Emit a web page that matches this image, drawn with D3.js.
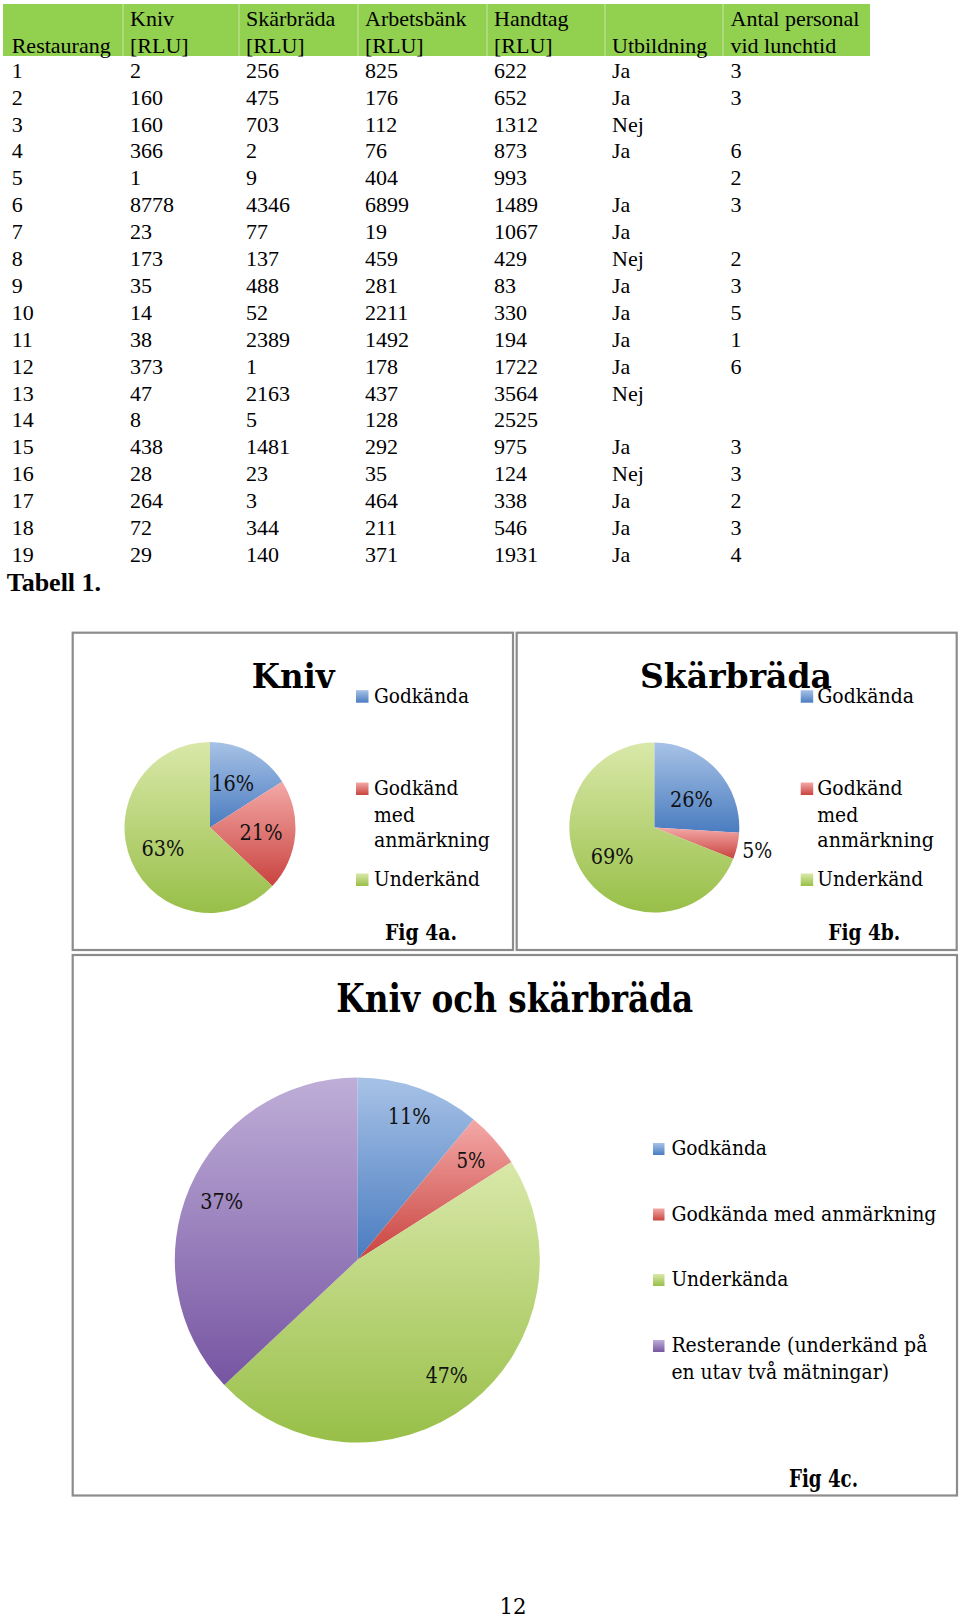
<!DOCTYPE html>
<html>
<head>
<meta charset="utf-8">
<script src="https://cdn.jsdelivr.net/npm/d3@7"></script>
<style>
  html, body { margin: 0; padding: 0; background: #fff; }
  svg { display: block; }
</style>
</head>
<body>
<script>
// ---------------- DATA ----------------
const headerLine1 = ["", "Kniv", "Skärbräda", "Arbetsbänk", "Handtag", "", "Antal personal"];
const headerLine2 = ["Restaurang", "[RLU]", "[RLU]", "[RLU]", "[RLU]", "Utbildning", "vid lunchtid"];
const restaurang = ["1","2","3","4","5","6","7","8","9","10","11","12","13","14","15","16","17","18","19"];
const kniv       = [2,160,160,366,1,8778,23,173,35,14,38,373,47,8,438,28,264,72,29];
const skarbrada  = [256,475,703,2,9,4346,77,137,488,52,2389,1,2163,5,1481,23,3,344,140];
const arbetsbank = [825,176,112,76,404,6899,19,459,281,2211,1492,178,437,128,292,35,464,211,371];
const handtag    = [622,652,1312,873,993,1489,1067,429,83,330,194,1722,3564,2525,975,124,338,546,1931];
const utbildning = ["Ja","Ja","Nej","Ja","","Ja","Ja","Nej","Ja","Ja","Ja","Ja","Nej","","Ja","Nej","Ja","Ja","Ja"];
const personal   = ["3","3","","6","2","3","","2","3","5","1","6","","","3","3","2","3","4"];
const tableCaption = "Tabell 1.";

const smallCats = ["Godkända", "Godkänd med anmärkning", "Underkänd"];
const smallLegendLines = [["Godkända"], ["Godkänd", "med", "anmärkning"], ["Underkänd"]];
const knivPct = [16, 21, 63];
const skarPct = [26, 5, 69];

const bigCats = ["Godkända", "Godkända med anmärkning", "Underkända", "Resterande (underkänd på en utav två mätningar)"];
const bigLegendLines = [["Godkända"], ["Godkända med anmärkning"], ["Underkända"], ["Resterande (underkänd på", "en utav två mätningar)"]];
const bigPct = [11, 5, 47, 37];

const titles = ["Kniv", "Skärbräda", "Kniv och skärbräda"];
const figLabels = ["Fig 4a.", "Fig 4b.", "Fig 4c."];
const pageNumber = "12";

// ---------------- SETUP ----------------
const W = 960, H = 1618;
const svg = d3.select("body").append("svg").attr("width", W).attr("height", H);
svg.append("rect").attr("width", W).attr("height", H).attr("fill", "#fff");

const serif = "'Liberation Serif', 'Times New Roman', serif";
const cam = "'DejaVu Serif', serif";

function T(parent, x, y, str, o) {
  const t = parent.append("text")
    .attr("x", x).attr("y", y)
    .attr("font-family", o.f || serif)
    .attr("font-size", o.s || 22)
    .attr("font-weight", o.b ? "bold" : "normal")
    .attr("text-anchor", o.a || "start")
    .attr("fill", o.c || "#000")
    .text(str);
  if (o.w) t.attr("textLength", o.w).attr("lengthAdjust", "spacingAndGlyphs");
  return t;
}

// gradients
const palette = [
  ["#a7c2e6", "#4a7cc0"], // blue
  ["#f3a9a7", "#c9433f"], // red
  ["#d9e8a9", "#98bf48"], // green
  ["#bfaed8", "#7655a2"]  // purple
];
const defs = svg.append("defs");
palette.forEach((p, i) => {
  const g = defs.append("linearGradient").attr("id", "g" + i)
    .attr("x1", 0).attr("y1", 0).attr("x2", 0).attr("y2", 1);
  g.append("stop").attr("offset", "0%").attr("stop-color", p[0]);
  g.append("stop").attr("offset", "100%").attr("stop-color", p[1]);
});

// ---------------- TABLE ----------------
const colX = [11.7, 130, 246, 365, 494, 612, 730.5];
const table = svg.append("g");
table.append("rect").attr("x", 3).attr("y", 4).attr("width", 867).attr("height", 52).attr("fill", "#92d050");
[123, 239, 358, 487, 605, 723].forEach(x => {
  table.append("line").attr("x1", x).attr("x2", x).attr("y1", 4).attr("y2", 56)
    .attr("stroke", "#fff").attr("stroke-opacity", 0.35).attr("stroke-width", 1.5);
});
headerLine1.forEach((h, i) => { if (h) T(table, colX[i], 26, h, { s: 22 }); });
headerLine2.forEach((h, i) => { if (h) T(table, colX[i], 52.5, h, { s: 22 }); });

const rowY = d3.scaleLinear().domain([0, 18]).range([77.7, 561.9]);
const columns = [restaurang, kniv, skarbrada, arbetsbank, handtag, utbildning, personal];
columns.forEach((col, ci) => {
  col.forEach((v, ri) => {
    if (v === "" || v === null) return;
    T(table, colX[ci], rowY(ri), String(v), { s: 22 });
  });
});
T(table, 6.7, 590.7, tableCaption, { s: 26, b: true });

// ---------------- BOXES ----------------
const boxes = [[72.7, 632.7, 513, 950], [516.7, 632.7, 956.7, 950], [72.7, 955, 957, 1495.5]];
boxes.forEach(b => {
  svg.append("rect").attr("x", b[0]).attr("y", b[1]).attr("width", b[2] - b[0]).attr("height", b[3] - b[1])
    .attr("fill", "none").attr("stroke", "#8c8c8c").attr("stroke-width", 2.2);
});

// ---------------- PIE HELPER ----------------
function drawPie(cx, cy, r, values, labelCfg) {
  const g = svg.append("g").attr("transform", `translate(${cx},${cy})`);
  const pie = d3.pie().sort(null).value(d => d)(values);
  const arc = d3.arc().innerRadius(0).outerRadius(r);
  g.selectAll("path").data(pie).enter().append("path")
    .attr("d", arc)
    .attr("fill", (d, i) => `url(#g${i})`);
  pie.forEach((d, i) => {
    const lc = labelCfg[i];
    const la = d3.arc().innerRadius(lc.k * r).outerRadius(lc.k * r);
    const c = la.centroid(d);
    T(g, c[0] + (lc.dx || 0), c[1] + (lc.dy || 0) + 8, values[i] + "%",
      { f: cam, s: lc.s || 22, a: "middle", w: lc.w, c: "#111" });
  });
  return g;
}

// ---------------- FIG 4a ----------------
drawPie(210, 827.5, 85.5, knivPct, [
  { k: 0.6, w: 43, dx: -2, dy: 0 },
  { k: 0.6, w: 43, dx: 0, dy: 0 },
  { k: 0.6, w: 43, dx: 0, dy: 0 }
]);
T(svg, 251.7, 688.3, titles[0], { f: cam, s: 34, b: true, w: 83 });

function smallLegend(mx, tx, widths) {
  const baselines = [[702.7], [795, 821.7, 847.3], [886]];
  smallLegendLines.forEach((lines, i) => {
    svg.append("rect").attr("x", mx).attr("y", baselines[i][0] - 12.5)
      .attr("width", 12.5).attr("height", 12.5).attr("fill", `url(#g${i})`);
    lines.forEach((ln, j) => {
      T(svg, tx, baselines[i][j], ln, { f: cam, s: 21, w: widths[i][j] });
    });
  });
}
smallLegend(356, 374, [[95], [84.3, 41, 116], [106]]);
T(svg, 385, 940, figLabels[0], { f: cam, s: 23, b: true, w: 72 });

// ---------------- FIG 4b ----------------
drawPie(654.3, 827.5, 85, skarPct, [
  { k: 0.6, w: 43, dx: 0, dy: 6 },
  { k: 1.24, w: 30, dx: 0, dy: 0 },
  { k: 0.6, w: 43, dx: 0, dy: 0 }
]);
T(svg, 640, 688.3, titles[1], { f: cam, s: 34, b: true, w: 192 });
smallLegend(800.7, 817.3, [[96.7], [85.3, 41, 116.7], [106]]);
T(svg, 828.3, 940, figLabels[1], { f: cam, s: 23, b: true, w: 72 });

// ---------------- FIG 4c ----------------
drawPie(357.3, 1260, 182.5, bigPct, [
  { k: 0.84, w: 43, dx: 0, dy: 0 },
  { k: 0.83, w: 29, dx: 0, dy: 0 },
  { k: 0.80, w: 42, dx: 0, dy: 0 },
  { k: 0.81, w: 43, dx: 0, dy: 0 }
]);
T(svg, 336.3, 1011.6, titles[2], { f: cam, s: 40, b: true, w: 357 });
const bigBase = [[1155], [1220.5], [1286], [1352, 1379]];
const bigW = [[95.6], [265], [117], [256, 217.6]];
bigLegendLines.forEach((lines, i) => {
  svg.append("rect").attr("x", 653).attr("y", bigBase[i][0] - 12)
    .attr("width", 11.5).attr("height", 12).attr("fill", `url(#g${i})`);
  lines.forEach((ln, j) => T(svg, 671.4, bigBase[i][j], ln, { f: cam, s: 21, w: bigW[i][j] }));
});
T(svg, 789, 1487, figLabels[2], { f: cam, s: 24, b: true, w: 69 });

// page number
T(svg, 513, 1614, pageNumber, { f: cam, s: 22, a: "middle", w: 27 });
</script>
</body>
</html>
